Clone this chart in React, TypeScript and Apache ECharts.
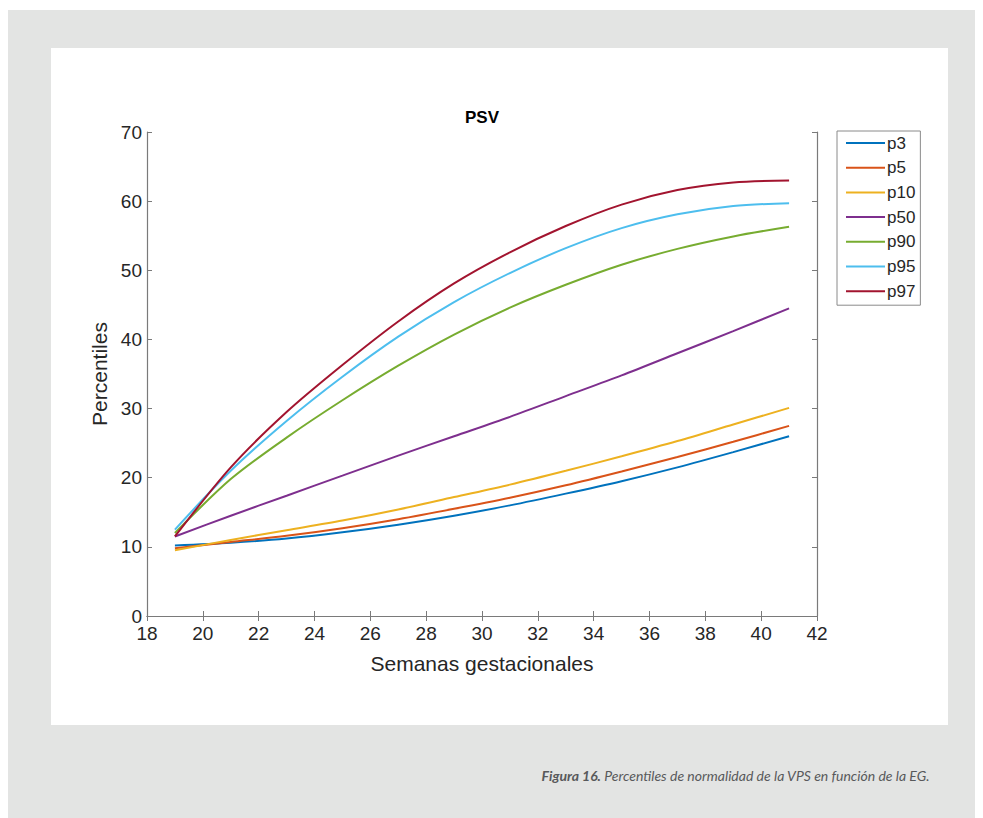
import React, { useEffect, useRef } from "react";
import * as echarts from "echarts";

// Gestational weeks at which the percentile curves are sampled
const weeks = [19, 21, 23, 25, 27, 29, 31, 33, 35, 37, 39, 41];

const p3 = [10.2, 10.6, 11.2, 12.1, 13.2, 14.5, 16.0, 17.7, 19.5, 21.5, 23.7, 26.0];
const p5 = [9.8, 10.7, 11.6, 12.7, 14.0, 15.5, 17.1, 18.9, 20.9, 23.0, 25.2, 27.5];
const p10 = [9.5, 11.0, 12.4, 13.8, 15.4, 17.2, 19.0, 21.0, 23.1, 25.3, 27.7, 30.1];
const p50 = [11.5, 14.5, 17.4, 20.3, 23.2, 26.0, 28.8, 31.8, 34.8, 38.0, 41.2, 44.5];
const p90 = [12.0, 19.8, 25.8, 31.2, 36.2, 40.7, 44.6, 47.9, 50.8, 53.1, 54.9, 56.3];
const p95 = [12.5, 21.0, 28.2, 34.6, 40.4, 45.4, 49.6, 53.2, 56.1, 58.1, 59.3, 59.7];
const p97 = [11.5, 21.5, 29.5, 36.3, 42.6, 48.1, 52.6, 56.4, 59.5, 61.6, 62.7, 63.0];

const seriesNames = ["p3", "p5", "p10", "p50", "p90", "p95", "p97"];
const seriesValues = [p3, p5, p10, p50, p90, p95, p97];
const seriesColors = ["#0072BD", "#D95319", "#EDB120", "#7E2F8E", "#77AC30", "#4DBEEE", "#A2142F"];

const chartTitle = "PSV";
const xAxisName = "Semanas gestacionales";
const yAxisName = "Percentiles";
const captionBold = "Figura 16.";
const captionText = " Percentiles de normalidad de la VPS en función de la EG.";

const W = 983;
const H = 818;
const axisColor = "#7a7a7a";
const textColor = "#262626";
const font = "Liberation Sans, Arial, sans-serif";
const captionFont = "Lato, Open Sans, sans-serif";

export default function App() {
  const ref = useRef<HTMLDivElement>(null);

  useEffect(() => {
    if (!ref.current) return;
    const chart = echarts.init(ref.current, undefined, { renderer: "svg" });

    const grid = { left: 147, top: 132, width: 670, height: 484 };

    const series = seriesNames.map((name, i) => ({
      name,
      type: "line",
      data: weeks.map((w, j) => [w, seriesValues[i][j]]),
      smooth: 0.3,
      symbol: "none",
      lineStyle: { color: seriesColors[i], width: 2 },
      itemStyle: { color: seriesColors[i] },
      z: 3,
    }));

    const plainAxisLine = { show: true, lineStyle: { color: axisColor, width: 1.2 } };
    const insideTicks = { show: true, inside: true, length: 5, lineStyle: { color: axisColor } };

    const mirrorAxis = {
      axisLabel: { show: false },
      splitLine: { show: false },
      axisLine: plainAxisLine,
      axisTick: insideTicks,
    };

    chart.setOption({
      animation: false,
      backgroundColor: "transparent",
      title: {
        text: chartTitle,
        left: 482,
        top: 109,
        textAlign: "center",
        textStyle: { fontFamily: font, fontSize: 17, fontWeight: "bold", color: "#000" },
        padding: 0,
      },
      grid,
      xAxis: [
        {
          type: "value",
          min: 18,
          max: 42,
          interval: 2,
          position: "bottom",
          name: xAxisName,
          nameLocation: "middle",
          nameGap: 37,
          nameTextStyle: { fontFamily: font, fontSize: 21, color: textColor },
          axisLabel: { fontFamily: font, fontSize: 19, color: textColor, margin: 8 },
          splitLine: { show: false },
          axisLine: plainAxisLine,
          axisTick: insideTicks,
        },
        { type: "value", min: 18, max: 42, interval: 2, position: "top", ...mirrorAxis },
      ],
      yAxis: [
        {
          type: "value",
          min: 0,
          max: 70,
          interval: 10,
          position: "left",
          name: yAxisName,
          nameLocation: "middle",
          nameGap: 25,
          nameRotate: 90,
          nameTextStyle: { fontFamily: font, fontSize: 21, color: textColor },
          axisLabel: { fontFamily: font, fontSize: 19, color: textColor, margin: 5 },
          splitLine: { show: false },
          axisLine: plainAxisLine,
          axisTick: insideTicks,
        },
        { type: "value", min: 0, max: 70, interval: 10, position: "right", ...mirrorAxis },
      ],
      legend: {
        orient: "vertical",
        left: 837,
        top: 131,
        icon: "rect",
        itemWidth: 39,
        itemHeight: 2,
        itemGap: 4.7,
        padding: [2, 5, 4, 9],
        borderColor: "#8a8a8a",
        borderWidth: 1,
        backgroundColor: "#fff",
        textStyle: { fontFamily: font, fontSize: 17, color: textColor, lineHeight: 20, padding: [0, 0, 0, -3] },
        data: seriesNames,
      },
      graphic: [
        {
          type: "rect",
          z: -10,
          silent: true,
          shape: { x: 8, y: 10, width: W - 16, height: H - 10 },
          style: { fill: "#e3e4e3" },
        },
        {
          type: "rect",
          z: -9,
          silent: true,
          shape: { x: 51, y: 48, width: 897, height: 677 },
          style: { fill: "#ffffff" },
        },
        {
          type: "text",
          right: W - 930,
          top: 768,
          style: {
            text: `{b|${captionBold}}{r|${captionText}}`,
            rich: {
              b: { fontFamily: captionFont, fontStyle: "italic", fontWeight: "bold", fontSize: 14, fill: "#58595b" },
              r: { fontFamily: captionFont, fontStyle: "italic", fontSize: 14, fill: "#58595b" },
            },
          },
        },
      ],
      series,
    });

    return () => chart.dispose();
  }, []);

  return (
    <div
      ref={ref}
      style={{ position: "fixed", left: 0, top: 0, width: W, height: H, background: "#ffffff" }}
    />
  );
}
